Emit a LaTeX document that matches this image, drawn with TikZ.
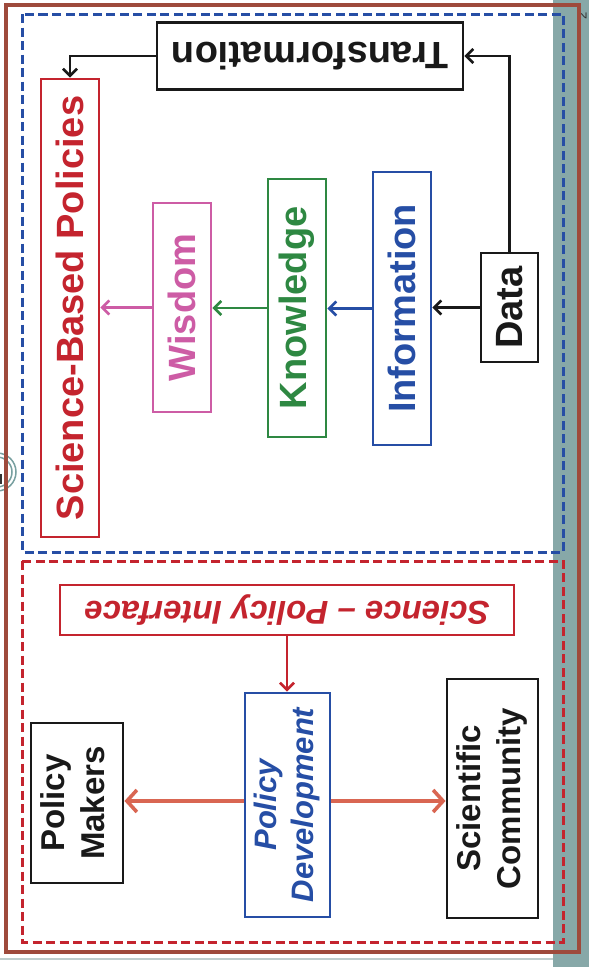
\documentclass[tikz,border=0pt]{standalone}
\usepackage{fontspec}
\setmainfont{Liberation Sans}
\usetikzlibrary{arrows.meta}
\definecolor{framebrown}{RGB}{158,74,60}
\definecolor{bandteal}{RGB}{135,168,168}
\definecolor{dkblue}{RGB}{38,78,165}
\definecolor{dkred}{RGB}{196,36,46}
\definecolor{wismag}{RGB}{205,92,165}
\definecolor{knowgreen}{RGB}{46,136,66}
\definecolor{salmon}{RGB}{217,102,82}
\definecolor{lightgray}{RGB}{190,205,205}
\definecolor{circteal}{RGB}{120,160,160}
\tikzset{
  boxnode/.style={draw, line width=2.9pt, inner sep=0pt, fill=white},
  bigtext/.style={font=\fontsize{38}{44}\selectfont\bfseries},
  lowtext/.style={font=\fontsize{33}{40}\selectfont\bfseries},
  pdtext/.style={font=\fontsize{31}{37}\selectfont\bfseries\itshape},
  spitext/.style={font=\fontsize{33}{40}\selectfont\bfseries\itshape},
  conn/.style={line width=2.6pt, -{Straight Barb[length=7pt,width=14pt,line width=2.6pt]}},
  pconn/.style={line width=3.6pt, color=salmon, -{Straight Barb[length=10pt,width=22pt,line width=3.6pt]}},
  dashframe/.style={line width=3pt, dash pattern=on 9pt off 4.5pt},
}
\begin{document}
\begin{tikzpicture}[x=1pt,y=-1pt]
\useasboundingbox (0,0) rectangle (589,967);
% background pieces
\fill[bandteal] (553,0) rectangle (589,967);
\draw[lightgray, line width=2.5pt] (0,959) -- (553,959);
\draw[circteal, line width=1.5pt] (-3,472) circle (19);
\draw[circteal, line width=1.5pt] (-3,472) circle (15);
\draw[black!80, line width=1.6pt] (1,474) -- (1,483) -- (-1,483);
\node[rotate=90, font=\fontsize{13}{14}\selectfont, text=black!80] (pgnum) at (582,16) {2};
% outer frame
\draw[framebrown, line width=4.5pt] (6,5) rectangle (579,952);
% dashed frames
\draw[dkblue, dashframe] (22.5,14) rectangle (563.5,552);
\draw[dkred, dashframe] (22,561) rectangle (563.5,942);

% DIKW nodes
\node[boxnode, draw=dkred, text=dkred, bigtext, minimum width=58pt, minimum height=458pt] (sbp) at (70,308) {\rotatebox{90}{Science-Based Policies}};
\node[boxnode, draw=wismag, text=wismag, bigtext, minimum width=58pt, minimum height=209pt] (wis) at (182,307.5) {\rotatebox{90}{Wisdom}};
\node[boxnode, draw=knowgreen, text=knowgreen, bigtext, minimum width=58pt, minimum height=258pt] (know) at (297,308) {\rotatebox{90}{Knowledge}};
\node[boxnode, draw=dkblue, text=dkblue, bigtext, minimum width=58pt, minimum height=273pt] (info) at (402,308.5) {\rotatebox{90}{Information}};
\node[boxnode, draw=black!90, text=black!90, bigtext, minimum width=57pt, minimum height=109pt] (data) at (509.5,307.5) {\rotatebox{90}{Data}};
\node[boxnode, draw=black!90, text=black!90, bigtext, minimum width=306pt, minimum height=67pt] (trans) at (310,56) {\rotatebox{180}{Transformation}};

% DIKW connectors
\draw[conn, black!90] (data.west) -- (data.west -| info.east);
\draw[conn, dkblue] (info.west) -- (info.west -| know.east);
\draw[conn, knowgreen] (know.west) -- (know.west -| wis.east);
\draw[conn, wismag] (wis.west) -- (wis.west -| sbp.east);
\draw[conn, black!90] (data.north) |- (trans.east);
\draw[conn, black!90] (trans.west) -| (sbp.north);

% Policy part
\node[boxnode, draw=dkred, text=dkred, spitext, minimum width=454pt, minimum height=50pt] (spi) at (287,610) {\rotatebox{180}{Science -- Policy Interface}};
\node[boxnode, draw=dkblue, text=dkblue, pdtext, minimum width=85pt, minimum height=224pt] (pd) at (287.5,805) {\rotatebox{90}{\begin{tabular}{@{}c@{}}Policy\\Development\end{tabular}}};
\node[boxnode, draw=black!90, text=black!90, lowtext, minimum width=92pt, minimum height=160pt] (pm) at (77,803) {\rotatebox{90}{\begin{tabular}{@{}c@{}}Policy\\Makers\end{tabular}}};
\node[boxnode, draw=black!90, text=black!90, lowtext, minimum width=91pt, minimum height=239pt] (sc) at (492.5,798.5) {\rotatebox{90}{\begin{tabular}{@{}c@{}}Scientific\\Community\end{tabular}}};

\draw[conn, dkred] (spi.south) -- (spi.south |- pd.north);
\draw[pconn] ([yshift=4pt]pd.west) -- ([yshift=4pt]pd.west -| pm.east);
\draw[pconn] ([yshift=4pt]pd.east) -- ([yshift=4pt]pd.east -| sc.west);
\end{tikzpicture}
\end{document}
